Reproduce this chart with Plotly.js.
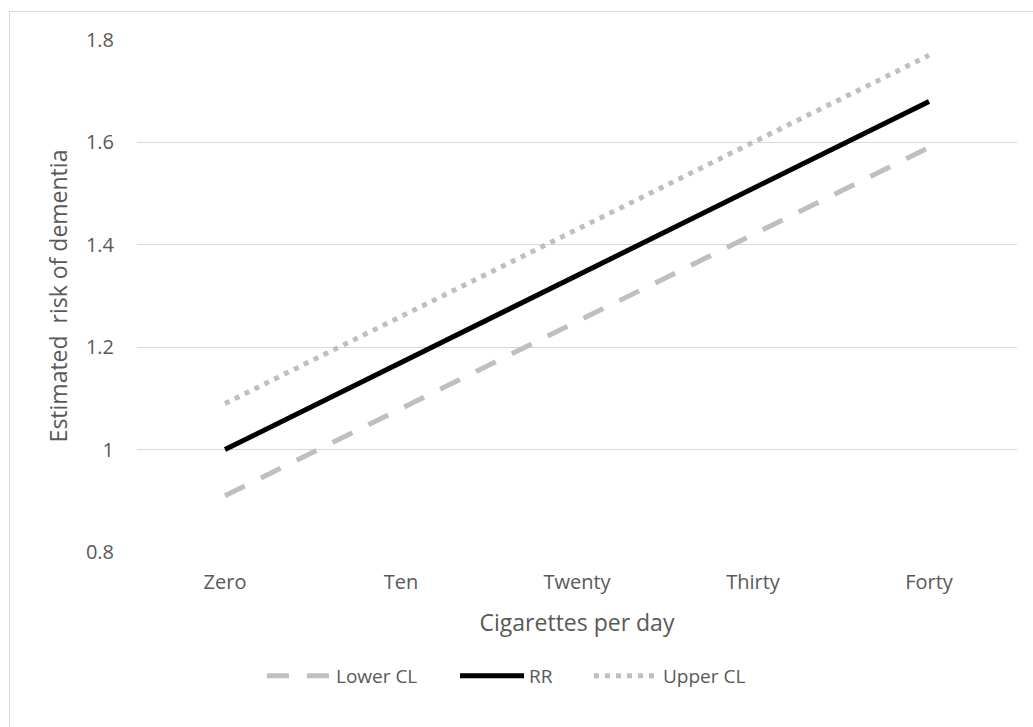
<!DOCTYPE html>
<html>
<head>
<meta charset="utf-8">
<script src="https://cdn.plot.ly/plotly-3.0.1.min.js"></script>
<style>
  body { margin: 0; padding: 0; background: #fff; }
  #chart { position: absolute; left: 0; top: 0; width: 1033px; height: 727px; }
  #frame { position: absolute; left: 9px; top: 11px; width: 1040px; height: 740px; border: 1px solid #d9d9d9; pointer-events: none; }
</style>
</head>
<body>
<div id="chart"></div>
<div id="frame"></div>
<script>
const categories = ["Zero", "Ten", "Twenty", "Thirty", "Forty"];
const lowerCL = [0.91, 1.08, 1.25, 1.42, 1.59];
const rr = [1.00, 1.17, 1.34, 1.51, 1.68];
const upperCL = [1.09, 1.26, 1.43, 1.60, 1.77];
const yTicks = [0.8, 1, 1.2, 1.4, 1.6, 1.8];
const yTickText = ["0.8", "1", "1.2", "1.4", "1.6", "1.8"];

const FONT = "Open Sans, Noto Sans, sans-serif";
const TXT = "#595959";

const traces = [
  { x: categories, y: lowerCL, name: "Lower CL", type: "scatter", mode: "lines", legend: "legend",
    line: { color: "#bfbfbf", width: 5, dash: "22px,18px" } },
  { x: categories, y: rr, name: "RR", type: "scatter", mode: "lines", legend: "legend2",
    line: { color: "#000000", width: 5 } },
  { x: categories, y: upperCL, name: "Upper CL", type: "scatter", mode: "lines", legend: "legend3",
    line: { color: "#bfbfbf", width: 5, dash: "5px,6px" } }
];

const legBase = { orientation: "h", xanchor: "left", y: -0.242, yanchor: "middle",
                  font: { family: FONT, size: 19, color: TXT }, itemwidth: 64,
                  bgcolor: "rgba(0,0,0,0)" };

const layout = {
  width: 1033, height: 727,
  margin: { l: 137, r: 16, t: 40, b: 175 },
  paper_bgcolor: "#ffffff", plot_bgcolor: "#ffffff",
  font: { family: FONT, color: TXT, size: 20 },
  showlegend: true,
  legend: Object.assign({}, legBase, { x: 0.1420 }),
  legend2: Object.assign({}, legBase, { x: 0.3614 }),
  legend3: Object.assign({}, legBase, { x: 0.5136 }),
  xaxis: {
    type: "category", range: [-0.5, 4.5], showgrid: false, zeroline: false,
    showline: false, ticks: "", ticklabelstandoff: 16, tickfont: { size: 20, color: TXT },
    title: { text: "Cigarettes per day", font: { size: 23, color: TXT }, standoff: 20 }
  },
  yaxis: {
    range: [0.8, 1.8], tickvals: yTicks, ticktext: yTickText,
    showgrid: true, gridcolor: "#d9d9d9", gridwidth: 1, zeroline: false,
    showline: false, ticks: "", ticklabelstandoff: 22, tickfont: { size: 20, color: TXT },
    title: { text: "Estimated  risk of dementia", font: { size: 23, color: TXT }, standoff: 11 }
  }
};

Plotly.newPlot("chart", traces, layout, { displayModeBar: false, staticPlot: true });
</script>
</body>
</html>
